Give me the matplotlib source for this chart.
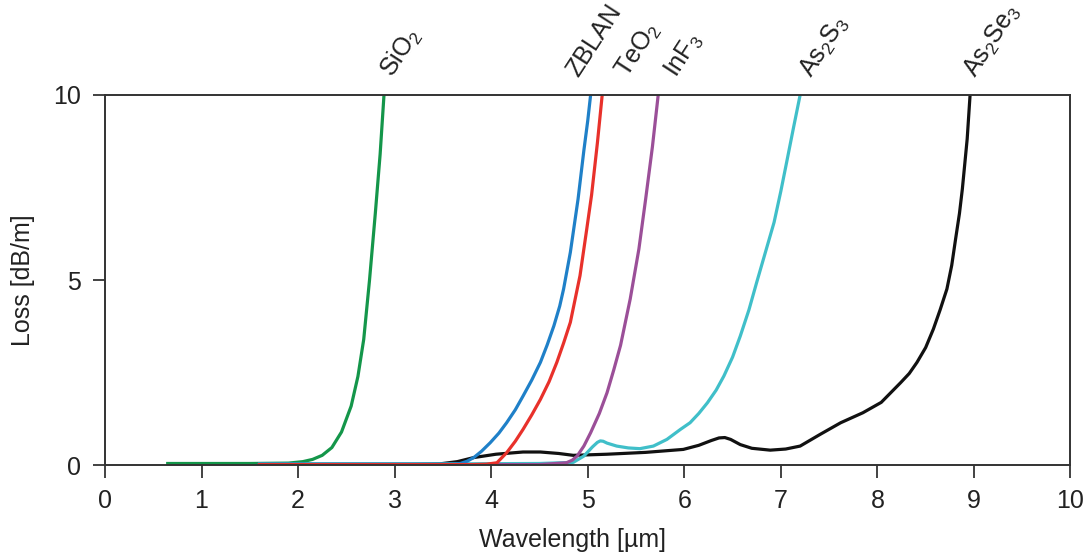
import matplotlib.pyplot as plt

plt.rcParams['font.family'] = ['Liberation Sans', 'DejaVu Sans']
plt.rcParams['mathtext.fontset'] = 'custom'
plt.rcParams['mathtext.rm'] = 'Liberation Sans'

# SiO2
x_sio2 = [0.65, 1.0, 1.5, 1.9, 2.05, 2.15, 2.25, 2.35, 2.45, 2.55, 2.62, 2.68, 2.74, 2.80, 2.85, 2.89]
y_sio2 = [0.05, 0.05, 0.05, 0.06, 0.1, 0.16, 0.27, 0.48, 0.9, 1.6, 2.4, 3.4, 5.0, 6.8, 8.4, 10]
# ZBLAN
x_zblan = [1.6, 2.5, 3.4, 3.6, 3.68, 3.75, 3.82, 3.9, 3.99, 4.08, 4.16, 4.25, 4.33, 4.42, 4.51, 4.58,
           4.65, 4.71, 4.75, 4.82, 4.87, 4.90, 4.96, 5.00, 5.03]
y_zblan = [0.03, 0.03, 0.03, 0.03, 0.05, 0.11, 0.21, 0.38, 0.61, 0.87, 1.15, 1.5, 1.87, 2.3, 2.78, 3.25,
           3.77, 4.3, 4.76, 5.75, 6.65, 7.19, 8.5, 9.3, 10]
# TeO2
x_teo2 = [1.6, 2.5, 3.5, 3.8, 3.95, 4.06, 4.16, 4.25, 4.33, 4.42, 4.51, 4.6, 4.68, 4.75, 4.82, 4.92,
          4.99, 5.04, 5.10, 5.15]
y_teo2 = [0.02, 0.02, 0.02, 0.02, 0.03, 0.07, 0.34, 0.65, 0.97, 1.36, 1.78, 2.26, 2.78, 3.3, 3.86, 5.12,
          6.38, 7.3, 8.7, 10]
# InF3
x_inf3 = [1.6, 2.5, 3.5, 4.5, 4.78, 4.84, 4.89, 4.96, 5.03, 5.12, 5.20, 5.27, 5.34, 5.44, 5.53, 5.60,
          5.67, 5.73]
y_inf3 = [0.02, 0.02, 0.02, 0.02, 0.07, 0.14, 0.25, 0.52, 0.88, 1.4, 1.96, 2.58, 3.24, 4.49, 5.84, 7.19,
          8.6, 10]
# As2S3
x_as2s3 = [1.6, 2.5, 3.5, 4.5, 4.85, 4.96, 5.05, 5.10, 5.13, 5.16, 5.20, 5.30, 5.42, 5.54, 5.68, 5.82,
           5.96, 6.06, 6.15, 6.24, 6.33, 6.41, 6.5, 6.58, 6.67, 6.75, 6.84, 6.93, 7.0, 7.06, 7.13, 7.20]
y_as2s3 = [0.04, 0.04, 0.04, 0.05, 0.08, 0.25, 0.5, 0.62, 0.66, 0.65, 0.6, 0.52, 0.47, 0.45, 0.52, 0.70,
           0.97, 1.15, 1.4, 1.69, 2.03, 2.41, 2.92, 3.49, 4.2, 4.94, 5.75, 6.56, 7.4, 8.18, 9.1, 10]
# As2Se3
x_as2se3 = [1.6, 2.5, 3.2, 3.47, 3.65, 3.82, 4.05, 4.33, 4.51, 4.7, 4.85, 5.2, 5.6, 5.99, 6.15, 6.28,
            6.36, 6.42, 6.48, 6.58, 6.7, 6.89, 7.05, 7.20, 7.41, 7.62, 7.85, 8.04, 8.24, 8.33, 8.41, 8.5,
            8.58, 8.65, 8.72, 8.77, 8.81, 8.85, 8.88, 8.93, 8.96]
y_as2se3 = [0.03, 0.03, 0.03, 0.04, 0.1, 0.21, 0.3, 0.36, 0.36, 0.32, 0.27, 0.3, 0.35, 0.43, 0.54, 0.67,
            0.74, 0.75, 0.7, 0.56, 0.46, 0.41, 0.44, 0.52, 0.84, 1.15, 1.42, 1.7, 2.23, 2.48, 2.78, 3.18,
            3.68, 4.2, 4.76, 5.4, 6.11, 6.8, 7.46, 8.81, 10]

labels = [r'SiO$_\mathregular{2}$', 'ZBLAN', r'TeO$_\mathregular{2}$', r'InF$_\mathregular{3}$',
          r'As$_\mathregular{2}$S$_\mathregular{3}$', r'As$_\mathregular{2}$Se$_\mathregular{3}$']
label_x = [2.98, 4.9, 5.41, 5.92, 7.32, 9.02]

fig = plt.figure(figsize=(10.91, 5.52), dpi=100)
ax = fig.add_axes([0.0962, 0.157, 0.885, 0.671])

ax.plot(x_sio2, y_sio2, color='#14964a', lw=2.3)
ax.plot(x_as2se3, y_as2se3, color='#111111', lw=2.3)
ax.plot(x_as2s3, y_as2s3, color='#40bfc9', lw=2.3)
ax.plot(x_inf3, y_inf3, color='#9b4f98', lw=2.3)
ax.plot(x_zblan, y_zblan, color='#1f80c8', lw=2.3)
ax.plot(x_teo2, y_teo2, color='#e8312b', lw=2.3)

for lab, lx in zip(labels, label_x):
    ax.text(lx, 10.45, lab, rotation=57, ha='left', va='baseline', rotation_mode='anchor',
            fontsize=18, color='#222222', clip_on=False)

ax.set_xlim(0, 10)
ax.set_ylim(0, 10)
ax.set_xticks(range(0, 11))
ax.set_yticks([0, 5, 10])
ax.tick_params(labelsize=18, colors='#222222', length=9, width=1.2, pad=8)
for s in ax.spines.values():
    s.set_linewidth(1.4)
    s.set_color('#333333')
ax.set_xlabel('Wavelength [µm]', fontsize=18, color='#222222')
ax.set_ylabel('Loss [dB/m]', fontsize=18, color='#222222')
ax.xaxis.set_label_coords(0.484, -0.17)
ax.yaxis.set_label_coords(-0.072, 0.5)

fig.savefig('out.png', dpi=100)
